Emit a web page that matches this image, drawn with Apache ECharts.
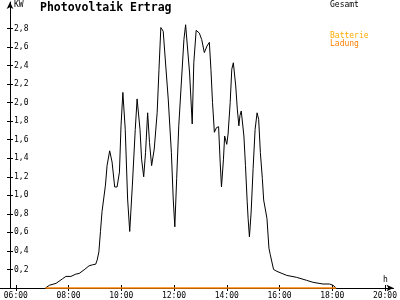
<!DOCTYPE html>
<html><head><meta charset="utf-8">
<script src="https://cdn.jsdelivr.net/npm/echarts@6/dist/echarts.min.js"></script>
<style>html,body{margin:0;padding:0;background:#fff}#c{width:400px;height:300px}</style>
</head><body><div id="c"></div>
<script>
// time in decimal hours
var gesamtTimes = [7.125,7.275,7.526,7.774,7.90,8.09,8.276,8.40,8.59,8.775,8.90,9.03,9.086,9.15,9.21,9.27,9.40,9.46,9.56,9.65,9.75,9.84,9.93,9.99,10.06,10.15,10.24,10.32,10.42,10.53,10.60,10.71,10.77,10.85,10.92,11.00,11.07,11.15,11.25,11.36,11.43,11.50,11.59,11.67,11.78,11.90,11.97,12.03,12.10,12.18,12.27,12.375,12.44,12.49,12.59,12.69,12.75,12.84,12.96,13.05,13.15,13.25,13.34,13.40,13.46,13.53,13.61,13.69,13.75,13.80,13.875,13.92,14.00,14.05,14.13,14.19,14.25,14.34,14.40,14.46,14.50,14.55,14.59,14.65,14.71,14.775,14.81,14.86,14.925,15.00,15.075,15.15,15.21,15.275,15.35,15.40,15.475,15.525,15.60,15.65,15.775,15.90,16.275,16.65,17.025,17.275,17.65,17.90,18.03,18.15];
var gesamtValues = [0,0.03,0.05,0.10,0.125,0.125,0.15,0.157,0.196,0.239,0.25,0.257,0.303,0.39,0.61,0.825,1.11,1.32,1.48,1.36,1.09,1.09,1.25,1.75,2.11,1.71,0.96,0.61,1.11,1.71,2.04,1.71,1.39,1.20,1.46,1.89,1.57,1.32,1.50,1.89,2.36,2.81,2.77,2.46,2.04,1.46,0.96,0.66,1.18,1.75,2.18,2.68,2.84,2.84,2.32,1.77,2.43,2.78,2.75,2.68,2.54,2.61,2.65,2.36,2.00,1.68,1.73,1.74,1.36,1.09,1.39,1.64,1.55,1.66,2.00,2.36,2.43,2.18,1.93,1.75,1.86,1.91,1.91,1.64,1.32,0.93,0.75,0.55,0.82,1.29,1.71,1.89,1.82,1.46,1.18,0.95,0.93,0.75,0.43,0.36,0.20,0.18,0.136,0.115,0.083,0.061,0.043,0.043,0.029,0];
var ladungTimes = [7.125,18.15];
var ladungValues = [0,0];
var xTicks = [6,8,10,12,14,16,18,20];
var yTicks = [0.2,0.4,0.6,0.8,1.0,1.2,1.4,1.6,1.8,2.0,2.2,2.4,2.6,2.8];

function zip(a,b){return a.map(function(t,i){return [t,b[i]];});}
var F = 'DejaVu Sans Mono';
var chart = echarts.init(document.getElementById('c'), null, {renderer:'canvas'});
var xMin = 6 - 16/26.6667, xMax = 6 + 382/26.6667;
chart.setOption({
  animation:false,
  backgroundColor:'#fff',
  grid:{left:0,right:2,top:2,bottom:10,containLabel:false},
  xAxis:[{
    type:'value',min:xMin,max:xMax,position:'bottom',
    axisLine:{show:true,lineStyle:{color:'#000',width:1},symbol:['none','arrow'],symbolSize:[5,7]},
    axisTick:{show:true,length:3,lineStyle:{color:'#000'},customValues:xTicks},
    axisLabel:{show:true,margin:4,fontFamily:F,fontSize:8,color:'#000',customValues:xTicks,
      formatter:function(v){var h=Math.round(v);return (h<10?'0':'')+h+':00';}},
    splitLine:{show:false}
  },{
    type:'value',min:xMin,max:xMax,position:'bottom',
    axisLine:{show:false},
    axisTick:{show:true,inside:true,length:3,lineStyle:{color:'#000'},customValues:xTicks},
    axisLabel:{show:false},splitLine:{show:false}
  }],
  yAxis:[{
    type:'value',min:0,max:(288/93.333),position:'left',offset:-10,
    axisLine:{show:true,lineStyle:{color:'#000',width:1},symbol:['none','arrow'],symbolSize:[5,7]},
    axisTick:{show:true,length:3,lineStyle:{color:'#000'},customValues:yTicks},
    axisLabel:{show:true,inside:true,margin:4,fontFamily:F,fontSize:8,color:'#000',customValues:yTicks,
      formatter:function(v){return v.toFixed(1).replace('.',',');}},
    splitLine:{show:false}
  },{
    type:'value',min:0,max:(288/93.333),position:'left',offset:-10,
    axisLine:{show:false},
    axisTick:{show:true,inside:true,length:3,lineStyle:{color:'#000'},customValues:yTicks},
    axisLabel:{show:false},splitLine:{show:false}
  }],
  graphic:[
    {type:'text',left:40,top:2,style:{text:'Photovoltaik Ertrag',fontFamily:F,fontSize:11.5,fontWeight:'bold',fill:'#000'}},
    {type:'text',left:14,top:1,style:{text:'KW',fontFamily:F,fontSize:8,fill:'#000'}},
    {type:'text',left:383,top:276,style:{text:'h',fontFamily:F,fontSize:8,fill:'#000'}},
    {type:'text',left:330,top:1,style:{text:'Gesamt',fontFamily:F,fontSize:8,fill:'#000'}},
    {type:'text',left:330,top:32,style:{text:'Batterie',fontFamily:F,fontSize:8,fill:'#FFAA00'}},
    {type:'text',left:330,top:40,style:{text:'Ladung',fontFamily:F,fontSize:8,fill:'#FF8000'}}
  ],
  series:[{
    name:'Gesamt',type:'line',xAxisIndex:0,yAxisIndex:0,data:zip(gesamtTimes,gesamtValues),
    showSymbol:false,clip:false,lineStyle:{color:'#000',width:1},itemStyle:{color:'#000'},z:3
  },{
    name:'Batterie Ladung',type:'line',xAxisIndex:0,yAxisIndex:0,data:zip(ladungTimes,ladungValues),
    showSymbol:false,clip:false,lineStyle:{color:'#FF8000',width:1.5},itemStyle:{color:'#FF8000'},z:4
  }]
});
</script></body></html>
